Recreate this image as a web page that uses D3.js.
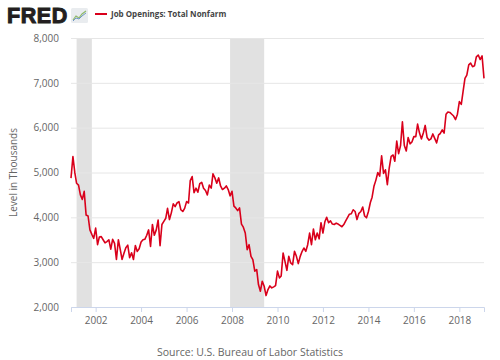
<!DOCTYPE html>
<html>
<head>
<meta charset="utf-8">
<script src="https://cdn.jsdelivr.net/npm/d3@7"></script>
<style>
body { margin: 0; background: #fff; }
text { font-family: "Open Sans", sans-serif; }
</style>
</head>
<body>
<div id="chart"></div>
<script>
// monthly series, first value is Dec 2000
var firstMonth = [2000, 11];
var jobOpenings = [
    4875,
    5357, 4990, 4760, 4720, 4500, 4400, 4580, 4050, 4030, 3720, 3620, 3530, // 2001
    3760, 3390, 3560, 3570, 3500, 3430, 3460, 3500, 3290, 3510, 3420, 3060, // 2002
    3500, 3280, 3060, 3200, 3320, 3380, 3100, 3210, 3060, 3370, 3240, 3300, // 2003
    3450, 3500, 3510, 3600, 3720, 3350, 3840, 3600, 3720, 3940, 3370, 3840, // 2004
    3910, 3980, 4200, 3950, 4100, 4300, 4240, 4320, 4350, 4170, 4130, 4200, // 2005
    4350, 4320, 4820, 4910, 4550, 4650, 4560, 4750, 4780, 4650, 4600, 4500, // 2006
    4720, 4650, 4970, 4880, 4760, 4880, 4700, 4620, 4650, 4700, 4620, 4480, // 2007
    4580, 4250, 4210, 4150, 4210, 3850, 3780, 3650, 3280, 3390, 3130, 3056, // 2008
    2800, 2835, 2500, 2352, 2574, 2463, 2255, 2390, 2470, 2426, 2450, 2478, // 2009
    2800, 2650, 2690, 3205, 3019, 2818, 3130, 2982, 2945, 3242, 3130, 2967, // 2010
    3130, 3242, 3316, 3242, 3390, 3650, 3390, 3740, 3500, 3650, 3520, 3880, // 2011
    3650, 3900, 4000, 3880, 3920, 3850, 3840, 3870, 3850, 3820, 3790, 3840, // 2012
    3920, 4000, 4070, 4080, 4170, 4130, 3950, 4090, 4130, 4230, 4030, 3990, // 2013
    4130, 4330, 4450, 4700, 4830, 5000, 4920, 5370, 4980, 5060, 4730, 5100, // 2014
    5360, 5390, 5250, 5700, 5420, 5600, 6130, 5600, 5480, 5780, 5640, 5680, // 2015
    5800, 5800, 6080, 5880, 5750, 5880, 6050, 5780, 5720, 5750, 5860, 5760, // 2016
    5660, 5840, 5870, 5950, 5880, 6300, 6350, 6340, 6300, 6260, 6180, 6300, // 2017
    6580, 6520, 6800, 7100, 7170, 7400, 7440, 7360, 7380, 7580, 7620, 7520, // 2018
    7600, 7100                                                              // 2019
];

var recessionStarts = ["2001-03-01", "2007-12-01"];
var recessionEnds = ["2001-11-01", "2009-06-01"];

var yTicks = [2000, 3000, 4000, 5000, 6000, 7000, 8000];
var xTickYears = [2002, 2004, 2006, 2008, 2010, 2012, 2014, 2016, 2018];

var seriesTitle = "Job Openings: Total Nonfarm";
var yTitle = "Level in Thousands";
var sourceNote = "Source: U.S. Bureau of Labor Statistics";

var data = jobOpenings.map(function(v, i) {
    return { date: new Date(firstMonth[0], firstMonth[1] + i, 1), value: v };
});

var W = 500, H = 360;
var margin = { top: 38, right: 16, bottom: 53, left: 71 };

var svg = d3.select("#chart").append("svg")
    .attr("width", W)
    .attr("height", H);

var x = d3.scaleTime()
    .domain(d3.extent(data, function(d) { return d.date; }))
    .range([margin.left, W - margin.right]);

var y = d3.scaleLinear()
    .domain([2000, 8000])
    .range([H - margin.bottom, margin.top]);

var parse = d3.timeParse("%Y-%m-%d");

// recession bars
svg.append("g").selectAll("rect")
    .data(recessionStarts)
    .enter().append("rect")
    .attr("x", function(d) { return x(parse(d)); })
    .attr("width", function(d, i) { return x(parse(recessionEnds[i])) - x(parse(d)); })
    .attr("y", margin.top)
    .attr("height", H - margin.bottom - margin.top)
    .attr("fill", "#e1e1e1");

// gridlines + y labels
var yAxis = d3.axisLeft(y)
    .tickValues(yTicks)
    .tickFormat(d3.format(","))
    .tickSize(-(W - margin.left - margin.right))
    .tickPadding(12);

var gy = svg.append("g")
    .attr("transform", "translate(" + margin.left + ",0)")
    .call(yAxis);
gy.select(".domain").remove();
gy.selectAll("line").attr("stroke", "#e6e6e6");
gy.selectAll("text").attr("fill", "#666").attr("font-size", 10);

// x axis
var xAxis = d3.axisBottom(x)
    .tickValues(xTickYears.map(function(yr) { return new Date(yr, 0, 1); }))
    .tickFormat(d3.timeFormat("%Y"))
    .tickSize(5)
    .tickPadding(5);

var gx = svg.append("g")
    .attr("transform", "translate(0," + (H - margin.bottom) + ")")
    .call(xAxis);
gx.select(".domain").attr("stroke", "#ccd6eb");
gx.selectAll("line").attr("stroke", "#ccd6eb");
gx.selectAll("text").attr("fill", "#666").attr("font-size", 10);

// the series
var line = d3.line()
    .x(function(d) { return x(d.date); })
    .y(function(d) { return y(d.value); });

svg.append("path")
    .datum(data)
    .attr("fill", "none")
    .attr("stroke", "#d9001b")
    .attr("stroke-width", 1.6)
    .attr("stroke-linejoin", "round")
    .attr("d", line);

// y title
svg.append("text")
    .attr("transform", "translate(17," + ((margin.top + H - margin.bottom) / 2) + ") rotate(-90)")
    .attr("text-anchor", "middle")
    .attr("fill", "#666")
    .attr("font-size", 10)
    .text(yTitle);

// source
svg.append("text")
    .attr("x", W / 2)
    .attr("y", 356)
    .attr("text-anchor", "middle")
    .attr("fill", "#666")
    .attr("font-size", 10.5)
    .text(sourceNote);

// FRED logo
svg.append("text")
    .attr("x", 7)
    .attr("y", 23)
    .attr("font-weight", 900)
    .attr("font-size", 21.5)
    .attr("fill", "#231f20")
    .attr("stroke", "#231f20")
    .attr("stroke-width", 1)
    .attr("letter-spacing", 0.6)
    .style("font-family", "'Liberation Sans', Arial, sans-serif")
    .text("FRED");

var icon = svg.append("g").attr("transform", "translate(71,8)");
icon.append("rect")
    .attr("width", 17).attr("height", 15).attr("rx", 1.5)
    .attr("fill", "#e9ecef");
icon.append("polyline")
    .attr("points", "2,12 5,8 8,10 11,6 15,3")
    .attr("fill", "none").attr("stroke", "#8fb96a").attr("stroke-width", 1.2);
icon.append("polyline")
    .attr("points", "2,13 5,10 8,11 11,8 15,5")
    .attr("fill", "none").attr("stroke", "#6f96c6").attr("stroke-width", 1);

// legend
svg.append("line")
    .attr("x1", 95).attr("x2", 107)
    .attr("y1", 14).attr("y2", 14)
    .attr("stroke", "#d9001b")
    .attr("stroke-width", 2);

svg.append("text")
    .attr("x", 111)
    .attr("y", 17)
    .attr("font-size", 8)
    .attr("font-weight", "bold")
    .attr("fill", "#444")
    .text(seriesTitle);
</script>
</body>
</html>
